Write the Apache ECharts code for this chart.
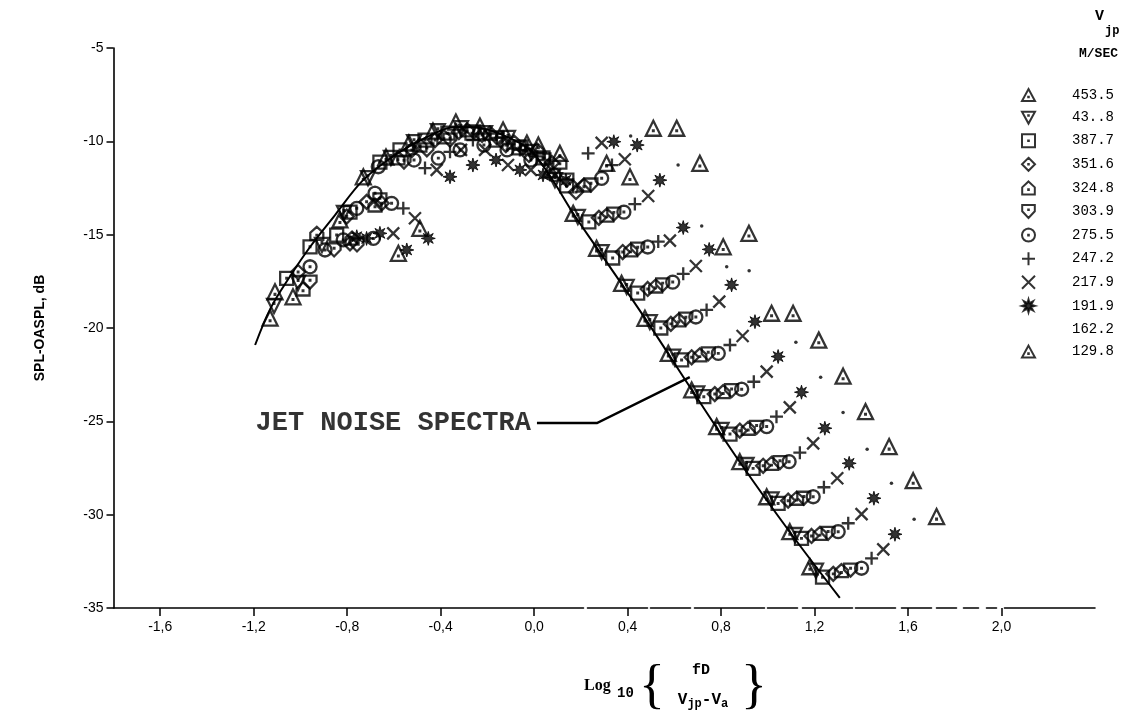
<!DOCTYPE html>
<html>
<head>
<meta charset="utf-8">
<script src="https://cdn.jsdelivr.net/npm/echarts@6/dist/echarts.min.js"></script>
<style>
  html, body { margin: 0; padding: 0; background: #ffffff; }
  #chart { width: 1124px; height: 723px; }
</style>
</head>
<body>
<div id="chart"></div>
<script>
// Jet velocities (m/s) shown in the key, one entry per symbol
const velocities = ['453.5', '43..8', '387.7', '351.6', '324.8', '303.9', '275.5', '247.2', '217.9', '191.9', '162.2', '129.8'];

// Axis ticks
const xTicks = [-1.6, -1.2, -0.8, -0.4, 0.0, 0.4, 0.8, 1.2, 1.6, 2.0];
const yTicks = [-35, -30, -25, -20, -15, -10, -5];

// Normalised jet-noise spectrum (solid curve)
const spectrumCurve = [
  [-1.194, -20.91], [-1.127, -18.92], [-1.045, -17.24], [-0.959, -15.66], [-0.852, -13.95],
  [-0.732, -12.08], [-0.595, -10.73], [-0.467, -9.82], [-0.339, -9.23], [-0.232, -9.28],
  [-0.125, -9.71], [-0.018, -10.46], [0.068, -11.86], [0.166, -13.84], [0.269, -15.72],
  [0.474, -19.47], [0.675, -23.32], [0.880, -27.18], [1.094, -30.93], [1.308, -34.46]
];

// Measured points, [log10(fD/(Vjp-Va)), SPL-OASPL] per jet velocity
const v453_5 = [
  [-1.130, -19.47], [-1.032, -18.33], [-0.831, -14.21], [-0.731, -11.90], [-0.634, -10.84],
  [-0.536, -10.09], [-0.433, -9.45], [-0.335, -8.97], [-0.232, -9.18], [-0.133, -9.39],
  [-0.031, -10.09], [0.018, -10.20], [0.068, -11.53], [0.110, -10.64],
  [0.167, -13.86], [0.267, -15.73], [0.374, -17.61], [0.474, -19.48], [0.574, -21.36],
  [0.674, -23.32], [0.781, -25.28], [0.880, -27.16], [0.995, -29.04], [1.094, -30.91], [1.180, -32.79]
];
const v43_8 = [
  [-1.113, -18.82], [-1.010, -17.59], [-0.908, -15.55], [-0.814, -13.84], [-0.711, -11.97],
  [-0.613, -10.89], [-0.514, -10.04], [-0.412, -9.45], [-0.313, -9.29], [-0.210, -9.56],
  [-0.112, -9.82], [-0.014, -10.57], [0.089, -12.08],
  [0.187, -14.05], [0.289, -15.93], [0.396, -17.80], [0.495, -19.68], [0.595, -21.53],
  [0.698, -23.50], [0.802, -25.46], [0.909, -27.34], [1.016, -29.18], [1.116, -31.09], [1.206, -33.00]
];
const v387_7 = [
  [-1.059, -17.34], [-0.959, -15.65], [-0.845, -15.02], [-0.788, -13.79], [-0.660, -11.11],
  [-0.574, -10.46], [-0.467, -9.93], [-0.369, -9.56], [-0.266, -9.56], [-0.163, -9.93],
  [-0.065, -10.35], [0.038, -10.89], [0.139, -12.39],
  [0.234, -14.32], [0.336, -16.25], [0.443, -18.13], [0.542, -20.00], [0.631, -21.71],
  [0.726, -23.68], [0.838, -25.68], [0.937, -27.52], [1.044, -29.40], [1.144, -31.27], [1.234, -33.35]
];
const v351_6 = [
  [-1.010, -17.00], [-0.802, -14.03], [-0.717, -13.24], [-0.652, -13.32], [-0.788, -15.46],
  [-0.523, -10.46], [-0.424, -9.93], [-0.322, -9.50], [-0.223, -9.66], [-0.121, -10.20],
  [-0.022, -10.73], [0.076, -11.16], [0.179, -12.72],
  [0.277, -14.10], [0.379, -15.93], [0.486, -17.91], [0.585, -19.78], [0.674, -21.57],
  [0.773, -23.54], [0.880, -25.50], [0.980, -27.38], [1.087, -29.25], [1.187, -31.14], [1.280, -33.17]
];
const v324_8 = [
  [-0.989, -17.91], [-0.930, -14.93], [-0.779, -15.18], [-0.681, -13.41], [-0.583, -10.89],
  [-0.489, -10.20], [-0.386, -9.76], [-0.287, -9.39], [-0.189, -9.56], [-0.086, -10.04],
  [0.012, -10.46], [0.110, -11.11], [0.213, -12.34],
  [0.311, -13.95], [0.413, -15.82], [0.520, -17.75], [0.619, -19.57], [0.709, -21.44],
  [0.809, -23.41], [0.916, -25.37], [1.016, -27.25], [1.123, -29.12], [1.223, -31.00], [1.315, -33.00]
];
const v303_9 = [
  [-0.959, -17.54], [-0.856, -15.82], [-0.758, -15.55], [-0.660, -13.14], [-0.557, -11.11],
  [-0.459, -10.46], [-0.360, -9.93], [-0.258, -9.50], [-0.159, -9.82], [-0.056, -10.30],
  [0.042, -11.00], [0.140, -12.08], [0.243, -12.34],
  [0.341, -13.90], [0.443, -15.77], [0.550, -17.69], [0.649, -19.52], [0.745, -21.39],
  [0.845, -23.36], [0.952, -25.32], [1.052, -27.21], [1.154, -29.12], [1.258, -31.00], [1.354, -32.97]
];
const v275_5 = [
  [-0.959, -16.72], [-0.895, -15.82], [-0.817, -15.28], [-0.688, -15.20], [-0.759, -13.59],
  [-0.681, -12.78], [-0.610, -13.32], [-0.667, -11.36], [-0.514, -11.00], [-0.410, -10.90],
  [-0.317, -10.46], [-0.215, -10.20], [-0.116, -10.46], [-0.014, -11.00], [0.085, -11.80], [0.289, -11.98],
  [0.384, -13.79], [0.486, -15.66], [0.593, -17.54], [0.692, -19.41], [0.788, -21.36],
  [0.888, -23.28], [0.995, -25.28], [1.091, -27.16], [1.194, -29.04], [1.301, -30.91], [1.401, -32.87]
];
const v247_2 = [
  [-0.560, -13.59], [-0.467, -11.43], [-0.360, -10.56], [-0.262, -9.93], [-0.159, -9.82],
  [-0.061, -10.46], [0.046, -11.00], [0.231, -10.64], [0.333, -11.27],
  [0.431, -13.36], [0.531, -15.37], [0.638, -17.10], [0.738, -19.03], [0.838, -20.91],
  [0.940, -22.88], [1.037, -24.75], [1.137, -26.68], [1.240, -28.53], [1.344, -30.46], [1.444, -32.34]
];
const v217_9 = [
  [-0.603, -14.93], [-0.510, -14.12], [-0.417, -11.53], [-0.313, -10.46], [-0.210, -10.46],
  [-0.112, -11.27], [-0.014, -11.53], [0.089, -11.80], [0.187, -12.34], [0.289, -10.08], [0.388, -10.96],
  [0.488, -12.93], [0.581, -15.32], [0.692, -16.68], [0.792, -18.59], [0.892, -20.43],
  [0.995, -22.34], [1.094, -24.25], [1.194, -26.18], [1.297, -28.05], [1.401, -29.97], [1.494, -31.86]
];
const v191_9 = [
  [-0.759, -15.11], [-0.717, -15.20], [-0.660, -14.93], [-0.545, -15.82], [-0.453, -15.20],
  [-0.360, -11.90], [-0.262, -11.27], [-0.163, -11.00], [-0.061, -11.53], [0.038, -11.80],
  [0.136, -12.08], [0.341, -10.02], [0.441, -10.20],
  [0.538, -12.08], [0.638, -14.62], [0.749, -15.79], [0.845, -17.69], [0.945, -19.66],
  [1.044, -21.53], [1.144, -23.44], [1.244, -25.37], [1.348, -27.25], [1.454, -29.12], [1.544, -31.05]
];
const v162_2 = [
  [0.413, -9.71], [0.616, -11.27], [0.717, -14.54], [0.824, -16.72], [0.920, -16.93],
  [1.120, -20.77], [1.226, -22.64], [1.322, -24.53], [1.425, -26.50], [1.529, -28.32], [1.626, -30.25]
];
const v129_8 = [
  [-1.109, -18.06], [-0.581, -16.00], [-0.489, -14.66], [0.310, -11.18], [0.410, -11.90],
  [0.510, -9.30], [0.610, -9.30],
  [0.709, -11.18], [0.809, -15.65], [0.919, -14.93], [1.016, -19.21], [1.108, -19.21],
  [1.218, -20.65], [1.322, -22.58], [1.418, -24.48], [1.519, -26.35], [1.622, -28.18], [1.722, -30.10]
];

// Arrow from the annotation to the curve
const arrowPath = [[0.012, -25.09], [0.269, -25.09], [0.666, -22.63]];
const annotationText = 'JET NOISE SPECTRA';

// Open marker glyphs, each with a centre dot
const DOT = (cx, cy) => ` M${cx - 0.4} ${cy - 0.4} L${cx + 0.4} ${cy - 0.4} L${cx + 0.4} ${cy + 0.4} L${cx - 0.4} ${cy + 0.4} Z`;
const TRI_UP = 'path://M10 1.5 L19 18 L1 18 Z' + DOT(10, 12.6);
const TRI_DOWN = 'path://M1 2 L19 2 L10 18.5 Z' + DOT(10, 7.4);
const SQUARE = 'path://M2 2 L18 2 L18 18 L2 18 Z' + DOT(10, 10);
const DIAMOND = 'path://M10 1 L19 10 L10 19 L1 10 Z' + DOT(10, 10);
const HOUSE = 'path://M10 1.5 L18 9 L18 18 L2 18 L2 9 Z' + DOT(10, 12);
const SHIELD = 'path://M2 2 L18 2 L18 10 L10 18.5 L2 10 Z' + DOT(10, 8);
const CIRCLE = 'path://M18 10 L17.39 13.06 L15.66 15.66 L13.06 17.39 L10 18 L6.94 17.39 L4.34 15.66 L2.61 13.06 L2 10 L2.61 6.94 L4.34 4.34 L6.94 2.61 L10 2 L13.06 2.61 L15.66 4.34 L17.39 6.94 Z' + DOT(10, 10);
const PLUS = 'path://M10 1 L10 19 M1 10 L19 10';
const CROSS = 'path://M2 2 L18 18 M18 2 L2 18';
const STAR = 'path://M19 10 L13.7 11.53 L16.36 16.36 L11.53 13.7 L10 19 L8.47 13.7 L3.64 16.36 L6.3 11.53 L1 10 L6.3 8.47 L3.64 3.64 L8.47 6.3 L10 1 L11.53 6.3 L16.36 3.64 L13.7 8.47 Z';

const INK = '#000000';

const markerDefs = [
  { data: v453_5, symbol: TRI_UP, size: 15 },
  { data: v43_8, symbol: TRI_DOWN, size: 14 },
  { data: v387_7, symbol: SQUARE, size: 13 },
  { data: v351_6, symbol: DIAMOND, size: 14 },
  { data: v324_8, symbol: HOUSE, size: 13 },
  { data: v303_9, symbol: SHIELD, size: 13 },
  { data: v275_5, symbol: CIRCLE, size: 13 },
  { data: v247_2, symbol: PLUS, size: 13 },
  { data: v217_9, symbol: CROSS, size: 12 },
  { data: v191_9, symbol: STAR, size: 14, filled: true },
  { data: v162_2, symbol: 'circle', size: 3.5, filled: true, legendIcon: 'none' },
  { data: v129_8, symbol: TRI_UP, size: 15 }
];

const markerSeries = markerDefs.map((d, i) => ({
  type: 'scatter',
  name: velocities[i],
  data: d.data,
  symbol: d.symbol,
  symbolSize: d.size,
  itemStyle: d.filled
    ? { color: INK, borderColor: INK, borderWidth: d.symbol === 'circle' ? 0 : 1 }
    : { color: 'rgba(0,0,0,0)', borderColor: INK, borderWidth: 2.3 },
  emphasis: { disabled: true },
  silent: true,
  z: 3
}));

const chart = echarts.init(document.getElementById('chart'), null, { renderer: 'canvas' });

const fmtX = v => v.toFixed(1).replace('.', ',');

chart.setOption({
  animation: false,
  backgroundColor: '#ffffff',
  grid: { left: 113.5, top: 48, right: 29, bottom: 115, containLabel: false },
  xAxis: {
    type: 'value',
    min: -1.8,
    max: 2.4,
    position: 'bottom',
    splitLine: { show: false },
    axisLine: {
      onZero: false,
      lineStyle: {
        color: INK, width: 1.6,
        type: [470, 4, 60, 3, 40, 4, 70, 3, 30, 5, 50, 3, 40, 6, 30, 5, 20, 7, 15, 8, 10, 8]
      }
    },
    axisTick: { show: true, inside: false, length: 8, customValues: xTicks, lineStyle: { color: INK, width: 1.5 } },
    axisLabel: {
      customValues: xTicks,
      formatter: fmtX,
      margin: 12,
      fontFamily: 'Liberation Sans',
      fontSize: 14,
      color: INK
    }
  },
  yAxis: {
    type: 'value',
    min: -35,
    max: -5,
    interval: 5,
    splitLine: { show: false },
    axisLine: { onZero: false, lineStyle: { color: INK, width: 1.6 } },
    axisTick: { show: true, inside: false, length: 7, lineStyle: { color: INK, width: 1.5 } },
    axisLabel: {
      formatter: v => (yTicks.includes(v) ? String(v) : ''),
      margin: 10,
      fontFamily: 'Liberation Sans',
      fontSize: 14,
      color: INK
    },
    name: 'SPL-OASPL, dB',
    nameLocation: 'middle',
    nameRotate: 90,
    nameGap: 66,
    nameTextStyle: { fontFamily: 'Liberation Sans', fontWeight: 'bold', fontSize: 14, color: INK }
  },
  legend: {
    orient: 'vertical',
    left: 1016,
    top: 83,
    itemWidth: 13,
    itemHeight: 13,
    itemGap: 8.6,
    selectedMode: false,
    textStyle: { fontFamily: 'Liberation Mono', fontSize: 14, color: INK, lineHeight: 13, padding: [0, 0, 0, 32] },
    data: velocities.map((v, i) => ({
      name: v,
      icon: markerDefs[i].legendIcon || markerDefs[i].symbol
    }))
  },
  graphic: [
    // key header
    { type: 'text', x: 1095, y: 9, style: { text: 'V', font: 'bold 15px "Liberation Mono"', fill: INK } },
    { type: 'text', x: 1105, y: 25, style: { text: 'jp', font: 'bold 12px "Liberation Mono"', fill: INK } },
    { type: 'text', x: 1079, y: 47, style: { text: 'M/SEC', font: 'bold 13px "Liberation Mono"', fill: INK } },
    // x-axis title: Log10 { fD / (Vjp - Va) }
    { type: 'text', x: 584, y: 686, style: { text: 'Log', font: 'bold 16px "Liberation Serif"', fill: INK, verticalAlign: 'middle' } },
    { type: 'text', x: 617, y: 693, style: { text: '10', font: 'bold 14px "Liberation Mono"', fill: INK, verticalAlign: 'middle' } },
    { type: 'text', x: 652, y: 688, style: { text: '{', font: '54px "Liberation Serif"', fill: INK, align: 'center', verticalAlign: 'middle' } },
    { type: 'text', x: 701, y: 670, style: { text: 'fD', font: 'bold 15px "Liberation Mono"', fill: INK, align: 'center', verticalAlign: 'middle' } },
    {
      type: 'text', x: 703, y: 700,
      style: {
        text: 'V{s|jp}-V{s|a}',
        font: 'bold 16px "Liberation Mono"',
        fill: INK, align: 'center', verticalAlign: 'middle',
        rich: { s: { font: 'bold 12px "Liberation Mono"', fill: INK, padding: [8, 0, 0, 0] } }
      }
    },
    { type: 'text', x: 754, y: 688, style: { text: '}', font: '54px "Liberation Serif"', fill: INK, align: 'center', verticalAlign: 'middle' } }
  ],
  series: [
    {
      type: 'line',
      name: 'spectrum',
      data: spectrumCurve,
      smooth: 0.35,
      showSymbol: false,
      lineStyle: { color: INK, width: 2 },
      emphasis: { disabled: true },
      silent: true,
      z: 2
    },
    ...markerSeries,
    {
      type: 'lines',
      coordinateSystem: 'cartesian2d',
      polyline: true,
      data: [{ coords: arrowPath }],
      symbol: ['none', 'arrow'],
      symbolSize: [0, 13],
      lineStyle: { color: INK, width: 2.5, opacity: 1 },
      silent: true,
      z: 4
    },
    {
      type: 'scatter',
      name: 'annotation',
      data: [arrowPath[0]],
      symbolSize: 0,
      silent: true,
      label: {
        show: true,
        position: 'left',
        distance: 6,
        formatter: annotationText,
        fontFamily: 'Liberation Mono',
        fontWeight: 'bold',
        fontSize: 27,
        color: INK
      },
      z: 4
    }
  ]
});
</script>
</body>
</html>
